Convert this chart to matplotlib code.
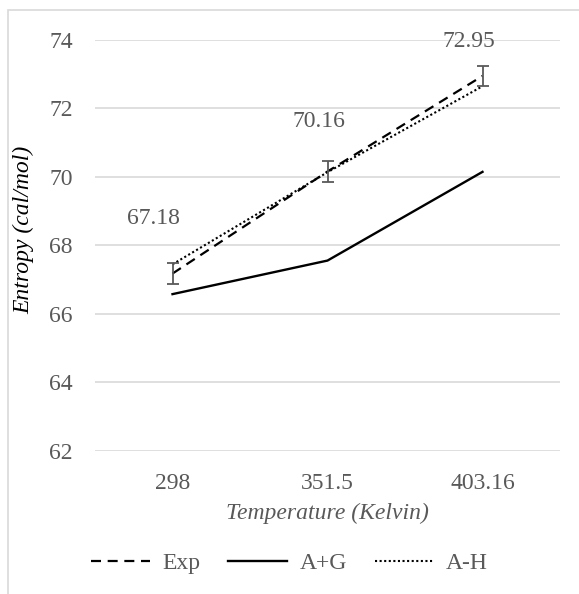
import matplotlib.pyplot as plt
from matplotlib.patches import Rectangle

# Data
temps = ['298', '351.5', '403.16']
exp_vals = [67.18, 70.16, 72.95]
exp_err = [0.3, 0.3, 0.3]
ag_vals = [66.58, 67.56, 70.15]
ah_vals = [67.45, 70.14, 72.65]
y_ticks = [62, 64, 66, 68, 70, 72, 74]

# label offsets (points) for the Exp data labels
label_offsets = [(-14, 40), (-6.5, 36), (-10, 25)]

grey = '#595959'
grid_grey = '#d9d9d9'
fs = 17

plt.rcParams['font.family'] = 'serif'
plt.rcParams['font.serif'] = ['Liberation Serif', 'DejaVu Serif']

fig = plt.figure(figsize=(5.79, 5.94), dpi=100)
# light chart-area border (cropped on the right and bottom)
fig.patches.append(Rectangle((8 / 579, -0.1), 1.2, 1 - 10 / 594 + 0.1,
                             transform=fig.transFigure, fill=False,
                             edgecolor=grid_grey, linewidth=1.2))

ax = fig.add_axes([95 / 579, 143 / 594, 465 / 579, 411 / 594])
x = list(range(len(temps)))

ax.plot(x, exp_vals, color='black', linewidth=1.6, linestyle=(0, (4.5, 3)), label='Exp')
ax.plot(x, ag_vals, color='black', linewidth=1.7, linestyle='-', label='A+G')
ax.plot(x, ah_vals, color='black', linewidth=1.5, linestyle=(0, (1, 1.2)), label='A-H')
ax.errorbar(x, exp_vals, yerr=exp_err, fmt='none', ecolor=grey, elinewidth=1.3,
            capsize=4.5, capthick=1.3)

for xi, v, off in zip(x, exp_vals, label_offsets):
    ax.annotate(f'{v:.2f}', (xi, v), xytext=off, textcoords='offset points',
                ha='center', va='center', fontsize=fs, color=grey)

ax.set_xlim(-0.5, len(temps) - 0.5)
ax.set_ylim(62, 74)
ax.set_yticks(y_ticks)
ax.set_xticks(x)
ax.set_xticklabels(temps)
ax.grid(axis='y', color=grid_grey, linewidth=1.2)
ax.set_axisbelow(True)
for s in ax.spines.values():
    s.set_visible(False)
ax.tick_params(axis='both', length=0, labelsize=fs, labelcolor=grey)
ax.tick_params(axis='y', pad=16)
ax.tick_params(axis='x', pad=16)

ax.set_xlabel('Temperature (Kelvin)', fontsize=fs, style='italic', color=grey, labelpad=6)
fig.text(24 / 579, 1 - 230 / 594, 'Entropy (cal/mol)', rotation=90, fontsize=fs,
         style='italic', color='black', ha='center', va='center')

ax.legend(loc='center', bbox_to_anchor=(0.5, 1 - 563 / 594),
          bbox_transform=fig.transFigure, ncol=3, frameon=False, fontsize=fs,
          labelcolor=grey, handlelength=2.5, handletextpad=0.5, columnspacing=1.2)

fig.savefig('out.png', dpi=100)
